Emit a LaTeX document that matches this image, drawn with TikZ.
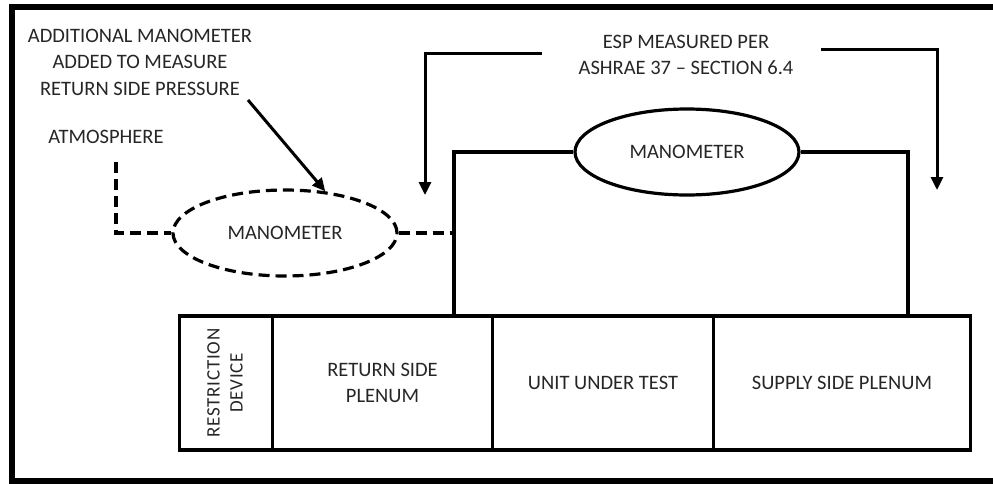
\documentclass[tikz,border=0pt]{standalone}
\usepackage{fontspec}
\setmainfont{Carlito}
\usepackage{tikz}
\usetikzlibrary{positioning, shapes.geometric, arrows.meta}

\begin{document}
\begin{tikzpicture}[
    x=1pt, y=-1pt,
    font=\fontsize{20.5}{26.5}\selectfont,
    every node/.style={text=black!85},
    pipe/.style={line width=3.2pt},
    gauge/.style={ellipse, draw, line width=3.2pt, minimum width=224pt, minimum height=86pt, inner sep=0pt},
    cell/.style={draw, line width=3.6pt, minimum height=134pt, inner sep=0pt, outer sep=0pt, align=center},
    pointer/.style={line width=3pt, -{Triangle[length=13pt, width=12pt]}},
    vent/.style={dash pattern=on 11pt off 6pt}
]
    \useasboundingbox (0,0) rectangle (993,483);
    % open frame round the picture
    \draw[line width=5.5pt] (993,7) -- (12,7) -- (12,481) -- (993,481);

    % test rig: restriction device, plenums and unit in a row
    \node[cell, minimum width=93pt] (restrict) at (226,383) {\rotatebox{90}{\fontsize{19}{26}\selectfont\addfontfeatures{LetterSpace=4}\begin{tabular}{c}RESTRICTION\\[-3pt]DEVICE\end{tabular}}};
    \node[cell, minimum width=220pt, right=0pt of restrict] (retplenum) {RETURN SIDE\\PLENUM};
    \node[cell, minimum width=221pt, right=0pt of retplenum] (unit) {UNIT UNDER TEST};
    \node[cell, minimum width=257pt, right=0pt of unit] (supply) {SUPPLY SIDE PLENUM};

    % manometers
    \node[gauge] (manoesp) at (687,152) {MANOMETER};
    \node[gauge, vent] (manoret) at (285,233) {MANOMETER};

    % labels
    \node[align=center] (addnote) at (140,62) {ADDITIONAL MANOMETER\\ADDED TO MEASURE\\RETURN SIDE PRESSURE};
    \node (atmo) at (106,137) {ATMOSPHERE};
    \node[align=center, font=\fontsize{20.5}{26}\selectfont] (espnote) at (686,55) {ESP MEASURED PER\\ASHRAE 37 -- SECTION 6.4};

    % pressure taps and line ends
    \coordinate (rettap) at (454,316);
    \coordinate (suptap) at (908,316);
    \coordinate (atmoend) at (116,162);
    \coordinate (espleft) at (542,53);
    \coordinate (espright) at (821,49);
    \coordinate (lefttip) at (425,195);
    \coordinate (righttip) at (937,190);
    \coordinate (addstart) at (248,100);

    % tubing
    \draw[pipe] (rettap) |- (manoesp.west);
    \draw[pipe] (suptap) |- (manoesp.east);
    \draw[pipe, vent] (atmoend) |- (manoret.west);
    \draw[pipe, vent] (manoret.east) -- (manoret.east -| rettap);

    % arrows
    \draw[pointer] (espleft) -| (lefttip);
    \draw[pointer] (espright) -| (righttip);
    \draw[pointer] (addstart) -- (manoret.46);
\end{tikzpicture}
\end{document}
